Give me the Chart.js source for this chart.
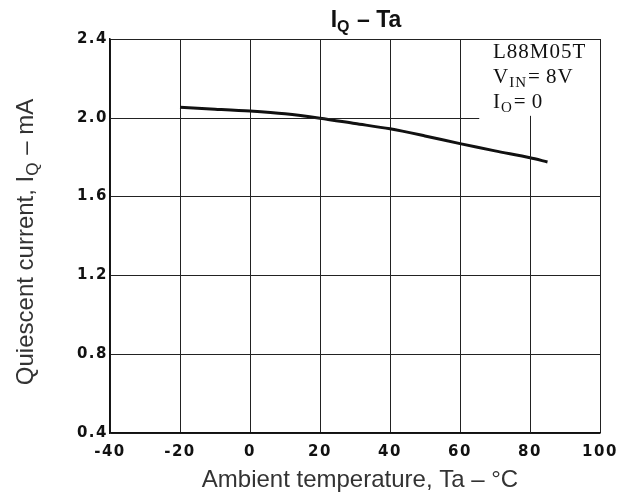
<!DOCTYPE html>
<html>
<head>
<meta charset="utf-8">
<script src="https://cdn.jsdelivr.net/npm/chart.js@4/dist/chart.umd.min.js"></script>
<style>
  html, body { margin: 0; padding: 0; background: #fff; }
  #wrap { width: 629px; height: 496px; }
</style>
</head>
<body>
<div id="wrap"><canvas id="chart" width="629" height="496"></canvas></div>
<script>
// Ta in degC, IQ in mA
const temps = [-20, -10, 0, 10, 20, 30, 40, 50, 60, 70, 80, 85];
const current = [2.053, 2.044, 2.034, 2.02, 1.998, 1.971, 1.944, 1.908, 1.869, 1.832, 1.797, 1.776];

const xTicks = [-40, -20, 0, 20, 40, 60, 80, 100];
const yTicks = [0.4, 0.8, 1.2, 1.6, 2.0, 2.4];

const noteLines = [
  ['L88M05T', '', ''],
  ['V', 'IN', '=\u20098V'],
  ['I', 'O', '=\u20090']
];

function near(a, b) { return Math.abs(a - b) < 1e-6; }

// text with a subscript part, returns end x
function subText(c, x, y, parts, bigFont, smallFont, drop) {
  c.font = bigFont; c.fillText(parts[0], x, y);
  x += c.measureText(parts[0]).width;
  c.font = smallFont; c.fillText(parts[1], x, y + drop);
  x += c.measureText(parts[1]).width + 1;
  c.font = bigFont; c.fillText(parts[2], x, y);
  return x + c.measureText(parts[2]).width;
}
function subWidth(c, parts, bigFont, smallFont) {
  c.font = bigFont; let w = c.measureText(parts[0]).width + c.measureText(parts[2]).width;
  c.font = smallFont; w += c.measureText(parts[1]).width + 1;
  return w;
}

// typewriter look for the tick numbers
const spacing = {
  id: 'spacing',
  beforeDraw(chart) { chart.ctx.letterSpacing = '1.5px'; }
};

// draws the titles, the note box and the short grid lines near the note
const extras = {
  id: 'extras',
  afterDraw(chart) {
    const c = chart.ctx;
    const xs = chart.scales.x, ys = chart.scales.y;
    c.save();
    c.letterSpacing = '0px';
    c.strokeStyle = '#222';
    c.lineWidth = 1;
    // 2.0 line stops before the note
    let y2 = Math.round(ys.getPixelForValue(2.0)) + 0.5;
    c.beginPath();
    c.moveTo(xs.getPixelForValue(-40), y2);
    c.lineTo(xs.getPixelForValue(65.5), y2);
    c.stroke();
    // 80 line starts under the note
    let x80 = Math.round(xs.getPixelForValue(80)) + 0.5;
    c.beginPath();
    c.moveTo(x80, ys.getPixelForValue(2.01));
    c.lineTo(x80, ys.getPixelForValue(0.4));
    c.stroke();

    c.textBaseline = 'alphabetic';

    // chart title
    c.fillStyle = '#111';
    const big = 'bold 23px "Liberation Sans", Arial, sans-serif';
    const small = 'bold 16px "Liberation Sans", Arial, sans-serif';
    const tParts = ['I', 'Q', ' \u2013 Ta'];
    let tw = subWidth(c, tParts, big, small);
    subText(c, 366 - tw / 2, 27, tParts, big, small, 5);

    // x axis title
    c.fillStyle = '#333';
    c.font = '24px "Liberation Sans", Arial, sans-serif';
    c.textAlign = 'center';
    c.fillText('Ambient temperature, Ta \u2013 \u00b0C', 360, 487);
    c.textAlign = 'left';

    // y axis title, rotated
    const yf = '24px "Liberation Sans", Arial, sans-serif';
    const yfs = '17px "Liberation Sans", Arial, sans-serif';
    const yParts = ['Quiescent current, I', 'Q', ' \u2013 mA'];
    let yw = subWidth(c, yParts, yf, yfs);
    c.save();
    c.translate(33, 242);
    c.rotate(-Math.PI / 2);
    subText(c, -yw / 2, 0, yParts, yf, yfs, 5);
    c.restore();

    // note
    c.fillStyle = '#111';
    c.letterSpacing = '1px';
    const serif = '21px "Liberation Serif", "Times New Roman", serif';
    const serifSmall = '15px "Liberation Serif", "Times New Roman", serif';
    noteLines.forEach((ln, i) => {
      let y = 58 + i * 25;
      if (ln[1]) subText(c, 493, y, ln, serif, serifSmall, 4);
      else { c.font = serif; c.fillText(ln[0], 493, y); }
    });
    c.restore();
  }
};

const ctx = document.getElementById('chart').getContext('2d');
const myChart = new Chart(ctx, {
  type: 'line',
  data: {
    datasets: [{
      data: temps.map((t, i) => ({ x: t, y: current[i] })),
      borderColor: '#111',
      borderWidth: 3,
      pointRadius: 0,
      tension: 0.3,
      fill: false
    }]
  },
  options: {
    responsive: false,
    animation: false,
    layout: { padding: { top: 39, right: 29, left: 0, bottom: 0 } },
    plugins: { legend: { display: false }, tooltip: { enabled: false } },
    scales: {
      x: {
        type: 'linear',
        min: -40, max: 100,
        afterBuildTicks: s => { s.ticks = xTicks.map(v => ({ value: v })); },
        afterFit: s => { s.height = 63; },
        grid: {
          drawTicks: false,
          lineWidth: 1,
          color: c => (c.tick && near(c.tick.value, 80)) ? 'rgba(0,0,0,0)' : '#222'
        },
        border: { color: '#111', width: 1.5 },
        ticks: {
          color: '#111',
          padding: 10,
          maxRotation: 0,
          autoSkip: false,
          font: { family: '"DejaVu Sans", sans-serif', size: 15, weight: 'bold' }
        }
      },
      y: {
        min: 0.4, max: 2.4,
        afterBuildTicks: s => { s.ticks = yTicks.map(v => ({ value: v })); },
        afterFit: s => { s.width = 110; },
        grid: {
          drawTicks: false,
          lineWidth: 1,
          color: c => (c.tick && near(c.tick.value, 2.0)) ? 'rgba(0,0,0,0)' : '#222'
        },
        border: { color: '#111', width: 1.5 },
        ticks: {
          color: '#111',
          padding: 2,
          callback: v => Number(v).toFixed(1),
          font: { family: '"DejaVu Sans", sans-serif', size: 15, weight: 'bold' }
        }
      }
    }
  },
  plugins: [spacing, extras]
});
</script>
</body>
</html>
